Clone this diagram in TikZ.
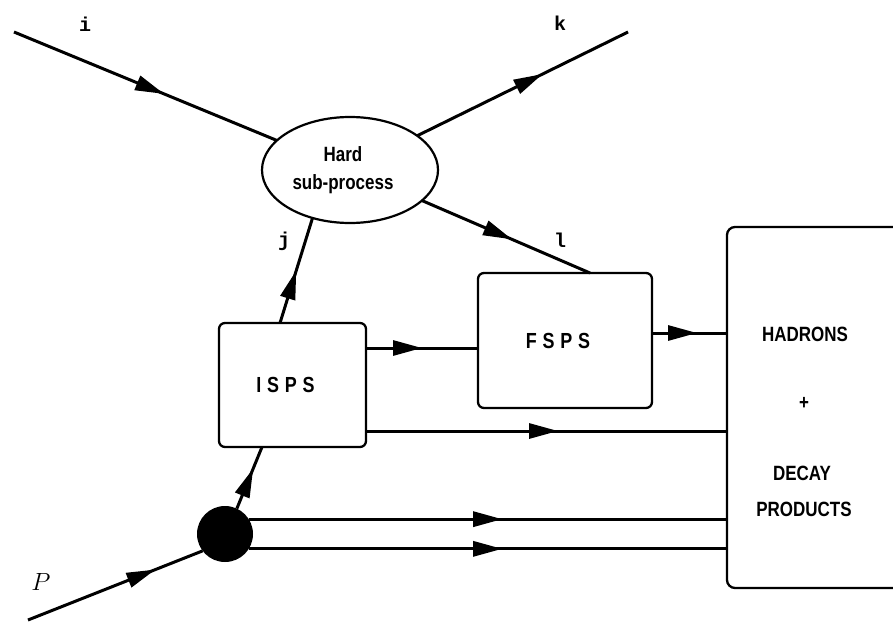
\documentclass[tikz,border=0pt]{standalone}
\usepackage{fontspec}
\usepackage{graphicx}
\setmainfont{Liberation Sans}
\newfontfamily\tlab{Liberation Mono}
\newcommand\vtall[1]{\scalebox{0.97}[1.18]{#1}}
\usetikzlibrary{arrows.meta,decorations.markings,shapes.geometric}
\tikzset{
 conn/.style={line width=3pt},
 marr/.style={postaction={decorate,decoration={markings,mark=at position #1 with {\arrow{Triangle[length=29pt,width=15pt]}}}}},
 procbox/.style={draw, line width=2.3pt, rounded corners=6pt, inner sep=0pt, outer sep=0pt},
 lbl/.style={font=\tlab\bfseries\fontsize{20}{20}\selectfont, inner sep=0pt},
 boxtext/.style={font=\bfseries\fontsize{17.5}{17.5}\selectfont, inner sep=0pt},
 proctext/.style={font=\bfseries\fontsize{18.5}{18.5}\selectfont},
}
\begin{document}
\begin{tikzpicture}[x=1pt,y=-1pt]
\useasboundingbox (0,0) rectangle (893,623);
\clip (0,0) rectangle (893,623);
\node[draw, ellipse, line width=2.2pt, minimum width=176pt, minimum height=106pt, inner sep=0pt, outer sep=0pt, align=center, font=\bfseries\fontsize{17.5}{28}\selectfont] (ell) at (350,170) {\hspace*{-14pt}\vtall{Hard}\\\hspace*{-14pt}\vtall{sub-process}};
\node[procbox, proctext, minimum width=147pt, minimum height=124pt] (isps) at (292.5,385) {\hspace*{-14pt}\vtall{I\hspace{6pt}S\hspace{6pt}P\hspace{6pt}S}};
\node[procbox, proctext, minimum width=174pt, minimum height=135pt] (fsps) at (565,340.5) {\hspace*{-14pt}\vtall{F\hspace{6pt}S\hspace{6pt}P\hspace{6pt}S}};
\node[procbox, rounded corners=8pt, minimum width=233pt, minimum height=361pt] (hadr) at (843.5,407.5) {};
\node[fill, circle, minimum size=56pt, inner sep=0pt, outer sep=0pt] (blob) at (225,534) {};
\node[boxtext] (t1) at (805,334) {\vtall{HADRONS}};
\node[boxtext] (t2) at (804,403) {\vtall{+}};
\node[boxtext] (t3) at (802,473) {\vtall{DECAY}};
\node[boxtext] (t4) at (804,509) {\vtall{PRODUCTS}};
\coordinate (ii) at (14,32);
\coordinate (kk) at (628,32);
\coordinate (pp) at (28,620);
\draw[conn, marr=0.571] (ii) -- (ell.158);
\draw[conn, marr=0.595] (ell.27) -- (kk);
\draw[conn, marr=0.536] (ell.337) -- (fsps.north -| 590,0);
\draw[conn, marr=0.5] (isps.north -| 280,0) -- (ell.232);
\draw[conn, marr=0.5] (isps.east |- 0,348) -- (fsps.west |- 0,348);
\draw[conn, marr=0.6] (fsps.east |- 0,333) -- (hadr.west |- 0,333);
\draw[conn, marr=0.532] (isps.east |- 0,431) -- (hadr.west |- 0,431);
\draw[conn, marr=0.53] (blob.32) -- (blob.32 -| hadr.west);
\draw[conn, marr=0.53] (blob.-32) -- (blob.-32 -| hadr.west);
\draw[conn, marr=0.73] (pp) -- (blob.217);
\draw[conn, marr=0.65] (blob.65) -- (isps.south -| 262,0);
\node[lbl] (li) at (85,24) {i};
\node[lbl] (lk) at (560,23) {k};
\node[lbl] (lj) at (284,241) {j};
\node[lbl] (ll) at (560,240) {l};
\node[font=\fontsize{32}{32}\selectfont, inner sep=0pt] (lp) at (41,582) {$P$};
\end{tikzpicture}
\end{document}
